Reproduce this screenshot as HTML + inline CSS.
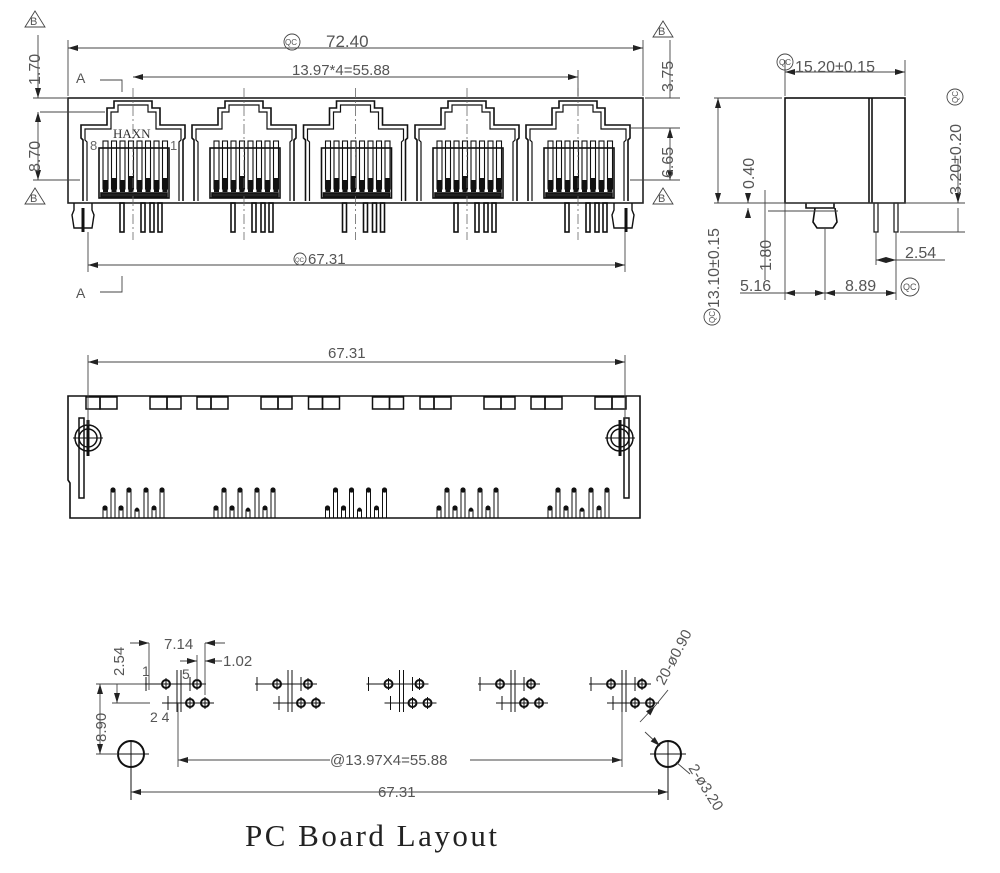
<!DOCTYPE html>
<html><head><meta charset="utf-8"><style>
html,body{margin:0;padding:0;background:#fff;width:1000px;height:873px;overflow:hidden}
svg{display:block}
</style></head><body>
<svg width="1000" height="873" viewBox="0 0 1000 873" xmlns="http://www.w3.org/2000/svg" font-family="Liberation Sans, sans-serif" fill="#555" font-size="16">
<defs>
<marker id="ar" viewBox="0 0 10 6" refX="10" refY="3" markerWidth="10" markerHeight="6" orient="auto-start-reverse" markerUnits="userSpaceOnUse"><path d="M0,0 L10,3 L0,6z" fill="#222"/></marker>
<g id="port" fill="none" stroke="#111" stroke-width="1.6">
<path d="M-50,201 V140 L-52,138 V125 H-26 V108 H-19 V101 H19 V108 H27 V125 H52 V138 L50,140 V201"/>
<path d="M-46,201 V142 L-48,140 V129 H-22 V112 H-15 V105 H15 V112 H23 V129 H48 V140 L46,142 V201" stroke-width="1.2"/>
<rect x="-34" y="148" width="70" height="50"/>
<rect x="-32" y="193" width="66" height="4" fill="#222"/>
<g stroke-width="1.1">
<rect x="-30" y="141" width="5" height="48"/><rect x="-21.5" y="141" width="5" height="48"/><rect x="-13" y="141" width="5" height="48"/><rect x="-4.5" y="141" width="5" height="48"/><rect x="4" y="141" width="5" height="48"/><rect x="12.5" y="141" width="5" height="48"/><rect x="21" y="141" width="5" height="48"/><rect x="29.5" y="141" width="5" height="48"/>
</g>
<g fill="#111" stroke="none">
<rect x="-30" y="180" width="5" height="12"/><rect x="-21.5" y="178" width="5" height="14"/><rect x="-13" y="180" width="5" height="12"/><rect x="-4.5" y="176" width="5" height="16"/><rect x="4" y="180" width="5" height="12"/><rect x="12.5" y="178" width="5" height="14"/><rect x="21" y="180" width="5" height="12"/><rect x="29.5" y="178" width="5" height="14"/>
</g>
<rect x="-13" y="203" width="4" height="29"/><rect x="8" y="203" width="4" height="29"/><rect x="17" y="203" width="4" height="29"/><rect x="25" y="203" width="4" height="29"/>
<line x1="0" y1="88" x2="0" y2="240" stroke="#666" stroke-width="0.8" stroke-dasharray="10,3,2,3"/>
</g>
<g id="bport" fill="none" stroke="#111" stroke-width="1.5">
<rect x="-47" y="397" width="14" height="12"/><rect x="-33" y="397" width="17" height="12"/><rect x="17" y="397" width="17" height="12"/><rect x="34" y="397" width="14" height="12"/>
<g stroke-width="1">
<path d="M-22,518 V490 Q-20,486 -18,490 V518"/><path d="M-6,518 V490 Q-4,486 -2,490 V518"/><path d="M11,518 V490 Q13,486 15,490 V518"/><path d="M27,518 V490 Q29,486 31,490 V518"/>
<path d="M-30,518 V508 Q-28,504 -26,508 V518"/><path d="M-14,518 V508 Q-12,504 -10,508 V518"/><path d="M2,518 V510 Q4,506 6,510 V518"/><path d="M19,518 V508 Q21,504 23,508 V518"/>
</g>
<g fill="#111" stroke="none"><circle cx="-20" cy="490" r="2.6"/><circle cx="-4" cy="490" r="2.6"/><circle cx="13" cy="490" r="2.6"/><circle cx="29" cy="490" r="2.6"/><circle cx="-28" cy="508" r="2.6"/><circle cx="-12" cy="508" r="2.6"/><circle cx="4" cy="510" r="1.8"/><circle cx="21" cy="508" r="2.4"/></g>
</g>
<g id="hp" fill="none" stroke="#111">
<g stroke-width="1"><line x1="-22" y1="684" x2="40" y2="684"/><line x1="-4" y1="703" x2="48" y2="703"/>
<line x1="-20" y1="677" x2="-20" y2="691"/><line x1="11" y1="670" x2="11" y2="712"/><line x1="15" y1="670" x2="15" y2="712"/><line x1="2" y1="696" x2="2" y2="710"/><line x1="24" y1="677" x2="24" y2="691"/>
<line x1="0" y1="678" x2="0" y2="690"/><line x1="31" y1="678" x2="31" y2="690"/><line x1="24" y1="697" x2="24" y2="709"/><line x1="39" y1="697" x2="39" y2="709"/></g>
<g stroke-width="2"><circle cx="0" cy="684" r="4"/><circle cx="31" cy="684" r="4"/><circle cx="24" cy="703" r="4"/><circle cx="39" cy="703" r="4"/></g>
</g>
</defs>

<g stroke="#222" fill="none" stroke-width="1.6">
<rect x="68" y="98" width="575" height="105"/>
</g>
<use href="#port" x="133"/><use href="#port" x="244"/><use href="#port" x="355.5"/><use href="#port" x="467"/><use href="#port" x="578"/>
<g fill="none" stroke="#111" stroke-width="1.4">
<path d="M74,203 V210 L72,215 L74,228 H92 L94,215 L92,210 V203"/><line x1="83" y1="208" x2="83" y2="232" stroke-width="3"/>
<path d="M614,203 V210 L612,215 L614,228 H632 L634,215 L632,210 V203"/><line x1="626" y1="208" x2="626" y2="232" stroke-width="3"/>
</g>
<text x="113" y="138" font-family="Liberation Serif, serif" font-size="13" fill="#333">HAXN</text>
<text x="90" y="150" font-size="13" fill="#666">8</text><text x="170" y="150" font-size="13" fill="#666">1</text>

<g stroke="#444" stroke-width="0.9" fill="none">
<line x1="68" y1="40" x2="68" y2="96"/><line x1="643" y1="40" x2="643" y2="96"/>
<line x1="68" y1="48" x2="643" y2="48" marker-start="url(#ar)" marker-end="url(#ar)"/>
<line x1="133" y1="77" x2="578" y2="77" marker-start="url(#ar)" marker-end="url(#ar)"/>
<line x1="578" y1="70" x2="578" y2="96"/>
<line x1="88" y1="232" x2="88" y2="272"/><line x1="625" y1="232" x2="625" y2="272"/>
<line x1="88" y1="265" x2="625" y2="265" marker-start="url(#ar)" marker-end="url(#ar)"/>
<path d="M100,80 H122 V92"/><path d="M100,292 H122 V276"/>
<line x1="33" y1="98" x2="68" y2="98"/><line x1="40" y1="112" x2="105" y2="112"/><line x1="33" y1="180" x2="80" y2="180"/>
<line x1="38" y1="35" x2="38" y2="98" marker-end="url(#ar)"/><line x1="38" y1="112" x2="38" y2="180" marker-start="url(#ar)" marker-end="url(#ar)"/>
<line x1="645" y1="98" x2="680" y2="98"/><line x1="630" y1="128" x2="680" y2="128"/><line x1="630" y1="180" x2="680" y2="180"/>
<line x1="670" y1="40" x2="670" y2="98"/><line x1="670" y1="128" x2="670" y2="180" marker-start="url(#ar)" marker-end="url(#ar)"/>
<path d="M25,27 L35,11 L45,27z"/><path d="M25,204 L35,188 L45,204z"/>
<path d="M653,37 L663,21 L673,37z"/><path d="M653,204 L663,188 L673,204z"/>
<circle cx="292" cy="42" r="8"/>
</g>
<text x="30" y="25" font-size="11">B</text><text x="30" y="202" font-size="11">B</text>
<text x="658" y="35" font-size="11">B</text><text x="658" y="202" font-size="11">B</text>
<text x="285" y="45" font-size="8">QC</text>
<text x="326" y="47" font-size="17">72.40</text>
<text x="292" y="75" font-size="15">13.97*4=55.88</text>
<circle cx="300" cy="259" r="6" fill="none" stroke="#444" stroke-width="0.9"/>
<text x="295" y="262" font-size="6">QC</text>
<text x="308" y="264" font-size="15">67.31</text>
<text x="76" y="83" font-size="14">A</text><text x="76" y="298" font-size="14">A</text>
<text transform="translate(40,85) rotate(-90)" font-size="16">1.70</text>
<text transform="translate(40,172) rotate(-90)" font-size="16">8.70</text>
<text transform="translate(673,92) rotate(-90)" font-size="16">3.75</text>
<text transform="translate(673,178) rotate(-90)" font-size="16">6.65</text>

<g fill="none" stroke="#111" stroke-width="1.6">
<rect x="785" y="98" width="120" height="105"/>
<line x1="869" y1="98" x2="869" y2="203"/><line x1="872" y1="98" x2="872" y2="203"/>
<path d="M806,203 V208 H834 V203"/><path d="M815,208 L813,222 L817,228 H833 L837,222 L835,208"/>
<rect x="874" y="203" width="4" height="29" stroke-width="1.2"/><rect x="894" y="203" width="4" height="29" stroke-width="1.2"/>
</g>
<g stroke="#444" stroke-width="0.9" fill="none">
<line x1="785" y1="60" x2="785" y2="96"/><line x1="905" y1="60" x2="905" y2="96"/>
<line x1="785" y1="72" x2="905" y2="72" marker-start="url(#ar)" marker-end="url(#ar)"/>
<circle cx="785" cy="62" r="8"/>
<line x1="714" y1="98" x2="782" y2="98"/><line x1="714" y1="203" x2="965" y2="203"/>
<line x1="718" y1="98" x2="718" y2="203" marker-start="url(#ar)" marker-end="url(#ar)"/>
<line x1="748" y1="196" x2="748" y2="203" marker-end="url(#ar)"/><line x1="748" y1="218" x2="748" y2="208" marker-end="url(#ar)"/>
<line x1="765" y1="190" x2="765" y2="280"/><line x1="768" y1="211" x2="838" y2="211"/>
<line x1="900" y1="232" x2="965" y2="232"/>
<line x1="958" y1="160" x2="958" y2="203" marker-end="url(#ar)"/><line x1="958" y1="232" x2="958" y2="208"/>
<line x1="876" y1="232" x2="876" y2="265"/><line x1="896" y1="232" x2="896" y2="300"/>
<line x1="876" y1="260" x2="896" y2="260" marker-start="url(#ar)" marker-end="url(#ar)"/><line x1="896" y1="260" x2="945" y2="260"/>
<line x1="785" y1="203" x2="785" y2="300"/><line x1="825" y1="228" x2="825" y2="300"/>
<line x1="740" y1="293" x2="825" y2="293"/><line x1="785" y1="293" x2="825" y2="293" marker-start="url(#ar)" marker-end="url(#ar)"/>
<line x1="825" y1="293" x2="896" y2="293" marker-start="url(#ar)" marker-end="url(#ar)"/>
<circle cx="910" cy="287" r="9"/><circle cx="955" cy="97" r="8"/><circle cx="712" cy="317" r="8"/>
</g>
<text x="779" y="65" font-size="8">QC</text>
<text x="795" y="72" font-size="16">15.20±0.15</text>
<text transform="translate(961,195) rotate(-90)" font-size="16">3.20±0.20</text>
<text transform="translate(958,103) rotate(-90)" font-size="8">QC</text>
<text transform="translate(719,308) rotate(-90)" font-size="16">13.10±0.15</text>
<text transform="translate(715,323) rotate(-90)" font-size="8">QC</text>
<text transform="translate(754,189) rotate(-90)" font-size="16">0.40</text>
<text transform="translate(771,271) rotate(-90)" font-size="16">1.80</text>
<text x="905" y="258" font-size="16">2.54</text>
<text x="740" y="291" font-size="16">5.16</text>
<text x="845" y="291" font-size="16">8.89</text>
<text x="903" y="290" font-size="9">QC</text>

<g fill="none" stroke="#111" stroke-width="1.6">
<path d="M68,396 H640 V518 H70 V483 L68,480 Z"/>
</g>
<use href="#bport" x="133"/><use href="#bport" x="244"/><use href="#bport" x="355.5"/><use href="#bport" x="467"/><use href="#bport" x="578"/>
<g fill="none" stroke="#111" stroke-width="1.5">
<rect x="79" y="418" width="5" height="80"/><circle cx="88" cy="438" r="13"/><circle cx="88" cy="438" r="9"/>
<line x1="73" y1="438" x2="103" y2="438" stroke-width="1"/><line x1="88" y1="420" x2="88" y2="456" stroke-width="3"/>
<rect x="624" y="418" width="5" height="80"/><circle cx="620" cy="438" r="13"/><circle cx="620" cy="438" r="9"/>
<line x1="605" y1="438" x2="635" y2="438" stroke-width="1"/><line x1="620" y1="420" x2="620" y2="456" stroke-width="3"/>
</g>
<g stroke="#444" stroke-width="0.9" fill="none">
<line x1="88" y1="355" x2="88" y2="425"/><line x1="625" y1="355" x2="625" y2="425"/>
<line x1="88" y1="362" x2="625" y2="362" marker-start="url(#ar)" marker-end="url(#ar)"/>
</g>
<text x="328" y="358" font-size="15">67.31</text>

<use href="#hp" x="166"/><use href="#hp" x="277"/><use href="#hp" x="388.5"/><use href="#hp" x="500"/><use href="#hp" x="611"/>
<g fill="none" stroke="#111">
<circle cx="131" cy="754" r="13" stroke-width="2"/><line x1="113" y1="754" x2="149" y2="754"/><line x1="131" y1="740" x2="131" y2="800"/>
<circle cx="668" cy="754" r="13" stroke-width="2"/><line x1="650" y1="754" x2="686" y2="754"/><line x1="668" y1="740" x2="668" y2="800"/>
</g>
<g stroke="#444" stroke-width="0.9" fill="none">
<line x1="178" y1="703" x2="178" y2="767"/><line x1="622" y1="712" x2="622" y2="767"/>
<line x1="178" y1="760" x2="330" y2="760" marker-start="url(#ar)"/><line x1="470" y1="760" x2="622" y2="760" marker-end="url(#ar)"/>
<line x1="131" y1="792" x2="668" y2="792" marker-start="url(#ar)" marker-end="url(#ar)"/>
<line x1="149" y1="643" x2="149" y2="690"/><line x1="205" y1="643" x2="205" y2="695"/>
<line x1="130" y1="643" x2="149" y2="643" marker-end="url(#ar)"/><line x1="225" y1="643" x2="205" y2="643" marker-end="url(#ar)"/>
<line x1="197" y1="655" x2="197" y2="680"/><line x1="180" y1="661" x2="197" y2="661" marker-end="url(#ar)"/><line x1="222" y1="661" x2="205" y2="661" marker-end="url(#ar)"/>
<line x1="96" y1="684" x2="145" y2="684"/><line x1="112" y1="703" x2="150" y2="703"/><line x1="96" y1="754" x2="118" y2="754"/>
<line x1="117" y1="684" x2="117" y2="703" marker-end="url(#ar)"/>
<line x1="100" y1="684" x2="100" y2="754" marker-start="url(#ar)" marker-end="url(#ar)"/>
<line x1="640" y1="722" x2="655" y2="706" marker-end="url(#ar)"/><line x1="655" y1="706" x2="668" y2="690"/>
<line x1="645" y1="732" x2="660" y2="746" marker-end="url(#ar)"/><line x1="676" y1="762" x2="690" y2="774"/>
</g>
<text x="164" y="649" font-size="15">7.14</text>
<text x="223" y="666" font-size="15">1.02</text>
<text x="142" y="676" font-size="14">1</text><text x="182" y="679" font-size="14">5</text>
<text x="150" y="722" font-size="14">2 4</text>
<text transform="translate(124,676) rotate(-90)" font-size="15">2.54</text>
<text transform="translate(106,742) rotate(-90)" font-size="15">8.90</text>
<text x="330" y="765" font-size="15">@13.97X4=55.88</text>
<text x="378" y="797" font-size="15">67.31</text>
<text transform="translate(664,686) rotate(-62)" font-size="15">20-ø0.90</text>
<text transform="translate(688,768) rotate(58)" font-size="15">2-ø3.20</text>
<text x="245" y="846" font-family="Liberation Serif, serif" font-size="31" fill="#222" letter-spacing="2.5">PC Board Layout</text>
</svg>
</body></html>
